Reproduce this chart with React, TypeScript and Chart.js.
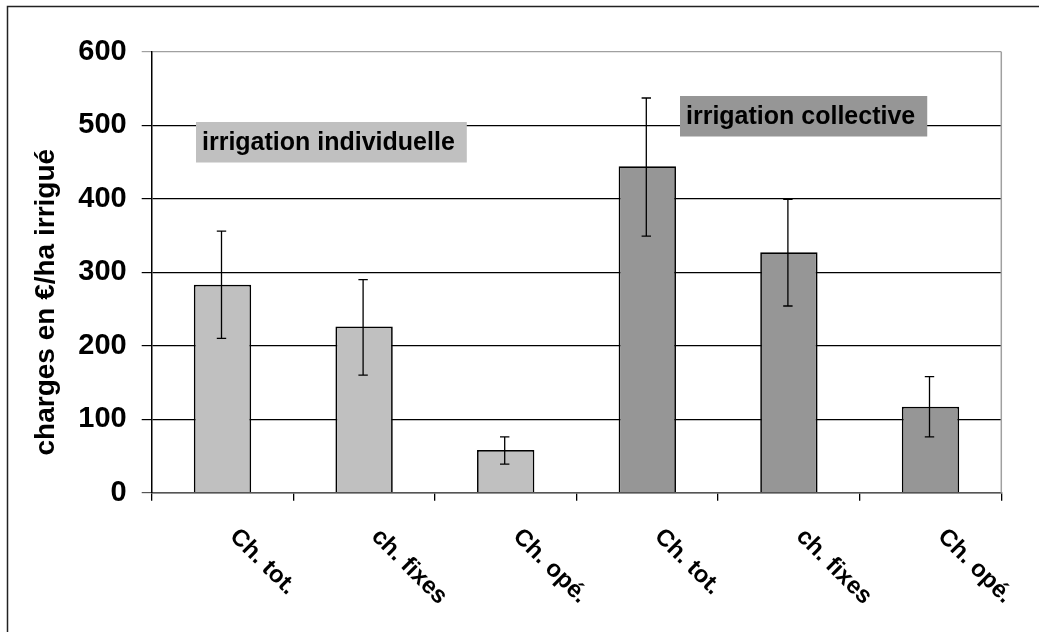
import { useEffect, useRef } from "react";
import { Chart, registerables } from "chart.js";

Chart.register(...registerables);

const categories = ["Ch. tot.", "ch. fixes", "Ch. opé.", "Ch. tot.", "ch. fixes", "Ch. opé."];
const values = [283, 226, 58, 444, 327, 117];
const errLow = [210, 160, 39, 349, 254, 76];
const errHigh = [356, 290, 76, 537, 399, 158];
const barColors = ["#C0C0C0", "#C0C0C0", "#C0C0C0", "#969696", "#969696", "#969696"];
const groupLabels = ["irrigation individuelle", "irrigation collective"];
const groupColors = ["#C0C0C0", "#969696"];
const yTitle = "charges en €/ha irrigué";
const yMin = 0;
const yMax = 600;
const yStep = 100;

const FONT = "'Liberation Sans', Arial, Helvetica, sans-serif";

export default function App() {
  const ref = useRef<HTMLCanvasElement | null>(null);

  useEffect(() => {
    const canvas = ref.current;
    if (!canvas) return;

    const framePlugin = {
      id: "frame",
      beforeDraw(chart: any) {
        const ctx = chart.ctx;
        ctx.save();
        ctx.strokeStyle = "#222";
        ctx.lineWidth = 1.5;
        ctx.beginPath();
        ctx.moveTo(7.5, chart.height + 2);
        ctx.lineTo(7.5, 6.5);
        ctx.lineTo(chart.width + 2, 6.5);
        ctx.stroke();
        ctx.restore();
      },
      afterDraw(chart: any) {
        const ctx = chart.ctx;
        const a = chart.chartArea;
        const x = chart.scales.x;
        // plot area right border
        ctx.save();
        ctx.strokeStyle = "#a0a0a0";
        ctx.lineWidth = 1.5;
        ctx.beginPath();
        ctx.moveTo(a.right, a.top);
        ctx.lineTo(a.right, a.bottom);
        ctx.stroke();
        ctx.restore();

        // x labels rotated clockwise
        ctx.save();
        ctx.fillStyle = "#000";
        ctx.font = `bold 24px ${FONT}`;
        ctx.textAlign = "left";
        ctx.textBaseline = "middle";
        categories.forEach((c, i) => {
          const px = x.getPixelForValue(i) + 11;
          const py = a.bottom + 40;
          ctx.save();
          ctx.translate(px, py);
          ctx.rotate(Math.PI / 4);
          ctx.fillText(c, 0, 0);
          ctx.restore();
        });
        ctx.restore();

        // y title
        ctx.save();
        ctx.fillStyle = "#000";
        ctx.font = `bold 28px ${FONT}`;
        ctx.textAlign = "center";
        ctx.textBaseline = "middle";
        ctx.translate(46, (a.top + a.bottom) / 2 + 30);
        ctx.rotate(-Math.PI / 2);
        ctx.fillText(yTitle, 0, 0);
        ctx.restore();

        // group annotation boxes
        const boxes = [
          { dx: 44.3, dy: 70.3 },
          { dx: 528.3, dy: 44.3 },
        ];
        ctx.save();
        ctx.font = `bold 25px ${FONT}`;
        ctx.textBaseline = "middle";
        ctx.textAlign = "left";
        groupLabels.forEach((t, i) => {
          const w = ctx.measureText(t).width + 18;
          const h = 40.5;
          const left = a.left + boxes[i].dx;
          const top = a.top + boxes[i].dy;
          ctx.fillStyle = groupColors[i];
          ctx.fillRect(left, top, w, h);
          ctx.fillStyle = "#000";
          ctx.fillText(t, left + 6, top + h / 2 + 1);
        });
        ctx.restore();
      },
      afterDatasetsDraw(chart: any) {
        const ctx = chart.ctx;
        const x = chart.scales.x;
        const y = chart.scales.y;
        ctx.save();
        ctx.strokeStyle = "#000";
        ctx.lineWidth = 1.3;
        errLow.forEach((lo, i) => {
          const px = x.getPixelForValue(i) - 1;
          const y1 = y.getPixelForValue(lo);
          const y2 = y.getPixelForValue(errHigh[i]);
          ctx.beginPath();
          ctx.moveTo(px, y1);
          ctx.lineTo(px, y2);
          ctx.moveTo(px - 4.7, y1);
          ctx.lineTo(px + 4.7, y1);
          ctx.moveTo(px - 4.7, y2);
          ctx.lineTo(px + 4.7, y2);
          ctx.stroke();
        });
        ctx.restore();
      },
    };

    const chart = new Chart(canvas, {
      type: "bar",
      data: {
        labels: categories,
        datasets: [
          {
            data: values,
            backgroundColor: barColors,
            borderColor: "#000",
            borderWidth: 1.7,
            categoryPercentage: 1,
            barPercentage: 0.405,
          },
        ],
      },
      options: {
        animation: false,
        responsive: true,
        maintainAspectRatio: false,
        layout: { padding: { left: 0, top: 51.7, right: 37.7, bottom: 0 } },
        plugins: {
          legend: { display: false },
          tooltip: { enabled: false },
          title: { display: false },
        },
        scales: {
          x: {
            offset: true,
            ticks: { display: false },
            grid: {
              offset: true,
              drawOnChartArea: false,
              drawTicks: true,
              tickLength: 8,
              color: "#000",
              lineWidth: 1.3,
            },
            border: { display: true, color: "#555", width: 1.5 },
            afterFit(scale: any) {
              scale.height = 632 - 492.7;
            },
          },
          y: {
            min: yMin,
            max: yMax,
            ticks: {
              stepSize: yStep,
              padding: 15,
              color: "#000",
              font: { family: FONT, size: 29, weight: "bold" },
            },
            grid: {
              color: (c: any) =>
                c.tick && c.tick.value === yMax ? "#a0a0a0" : c.tick && c.tick.value === 0 ? "#555" : "#000",
              lineWidth: 1.2,
              tickLength: 10,
            },
            border: { display: true, color: "#000", width: 1.5 },
            afterFit(scale: any) {
              scale.width = 151.7;
            },
          },
        },
      },
      plugins: [framePlugin],
    });

    return () => chart.destroy();
  }, []);

  return (
    <div
      style={{
        position: "fixed",
        left: 0,
        top: 0,
        width: 1039,
        height: 632,
        background: "#fff",
      }}
    >
      <canvas ref={ref} />
    </div>
  );
}
